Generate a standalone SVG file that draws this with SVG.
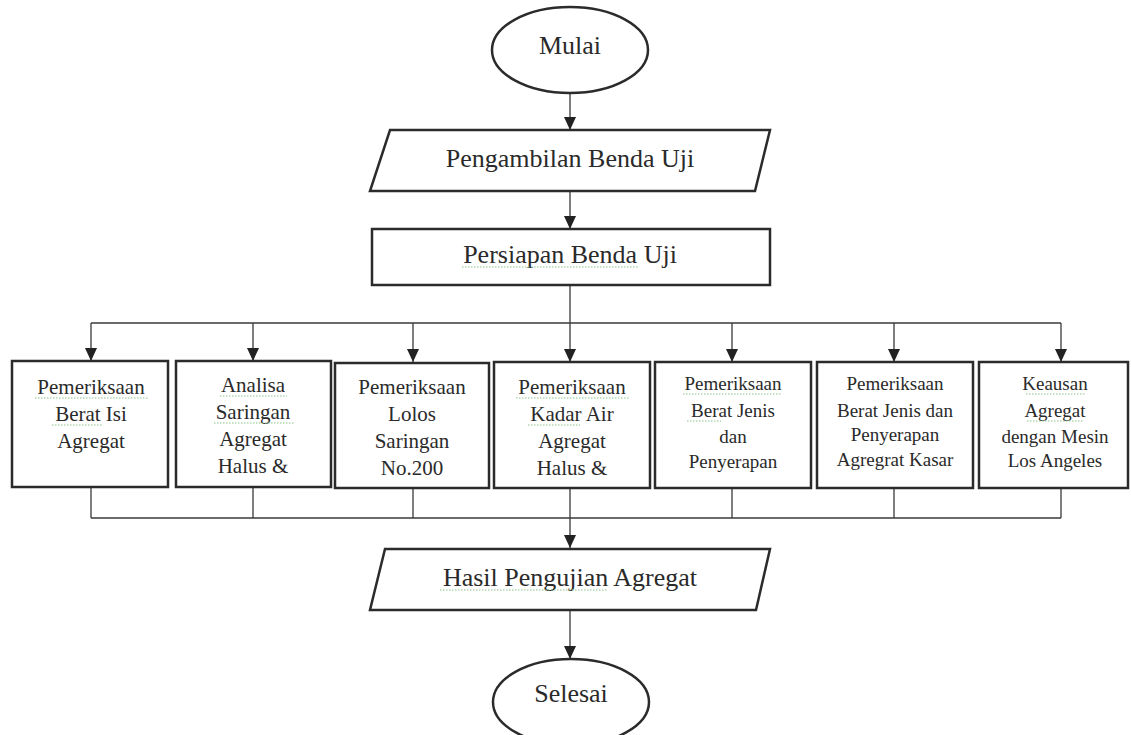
<svg xmlns="http://www.w3.org/2000/svg" width="1131" height="735" viewBox="0 0 1131 735">
<defs>
<marker id="arr" markerUnits="userSpaceOnUse" markerWidth="13" markerHeight="12" refX="13" refY="6" orient="auto" viewBox="0 0 13 12">
<path d="M0,0 L13,6 L0,12 Z" fill="#222"/>
</marker>
<style>
.shape{fill:#fff;stroke:#2b2b2b;stroke-width:2.5}
.box{fill:#fff;stroke:#2b2b2b;stroke-width:2.5}
.conn line{stroke:#3a3a3a;stroke-width:1.3;fill:none}
text{font-family:'Liberation Serif','Times New Roman','DejaVu Serif',serif;fill:#2a2a2a;text-anchor:middle}
.big{font-size:26px}
.mid{font-size:21px}
.sm{font-size:19px}
.sp{stroke:#8cc48c;stroke-width:1.2;stroke-dasharray:1.5 1.5;fill:none}
</style>
</defs>
<rect width="1131" height="735" fill="#fff"/>

<g id="connectors" class="conn">
<line x1="570" y1="93" x2="570" y2="130" marker-end="url(#arr)"/>
<line x1="570" y1="191" x2="570" y2="229" marker-end="url(#arr)"/>
<line x1="570" y1="285" x2="570" y2="323"/>
<line x1="91" y1="323" x2="1061" y2="323"/>
<line x1="91" y1="323" x2="91" y2="361" marker-end="url(#arr)"/>
<line x1="253" y1="323" x2="253" y2="361" marker-end="url(#arr)"/>
<line x1="413" y1="323" x2="413" y2="362" marker-end="url(#arr)"/>
<line x1="570" y1="323" x2="570" y2="362" marker-end="url(#arr)"/>
<line x1="732" y1="323" x2="732" y2="362" marker-end="url(#arr)"/>
<line x1="894" y1="323" x2="894" y2="362" marker-end="url(#arr)"/>
<line x1="1061" y1="323" x2="1061" y2="362" marker-end="url(#arr)"/>
<line x1="91" y1="487" x2="91" y2="518"/>
<line x1="253" y1="487" x2="253" y2="518"/>
<line x1="413" y1="488" x2="413" y2="518"/>
<line x1="570" y1="488" x2="570" y2="518"/>
<line x1="732" y1="488" x2="732" y2="518"/>
<line x1="894" y1="488" x2="894" y2="518"/>
<line x1="1061" y1="488" x2="1061" y2="518"/>
<line x1="91" y1="518" x2="1061" y2="518"/>
<line x1="570" y1="518" x2="570" y2="548" marker-end="url(#arr)"/>
<line x1="570" y1="610" x2="570" y2="659" marker-end="url(#arr)"/>
</g>

<g id="mulai">
<ellipse class="shape" cx="570" cy="50" rx="78" ry="43"/>
<text class="big" x="570" y="54" font-family="Liberation Serif, serif">Mulai</text>
</g>

<g id="pengambilan">
<polygon class="shape" points="390,130 770,130 755,191 370,191"/>
<text class="big" x="570" y="167" font-family="Liberation Serif, serif">Pengambilan Benda Uji</text>
</g>

<g id="persiapan">
<rect class="box" x="372" y="229" width="398" height="56"/>
<text class="big" x="570" y="263" font-family="Liberation Serif, serif">Persiapan Benda Uji</text>
<line class="sp" x1="462" y1="267" x2="638" y2="267"/>
</g>

<g id="box1">
<rect class="box" x="12" y="361" width="156" height="126"/>
<text class="mid" x="91" y="394">Pemeriksaan</text>
<text class="mid" x="91" y="421">Berat Isi</text>
<text class="mid" x="91" y="448">Agregat</text>
<line class="sp" x1="35" y1="398" x2="148" y2="398"/>
<line class="sp" x1="52" y1="425" x2="102" y2="425"/>
</g>

<g id="box2">
<rect class="box" x="176" y="361" width="155" height="126"/>
<text class="mid" x="253" y="392">Analisa</text>
<text class="mid" x="253" y="419">Saringan</text>
<text class="mid" x="253" y="446">Agregat</text>
<text class="mid" x="253" y="473">Halus &amp;</text>
<line class="sp" x1="220" y1="396" x2="287" y2="396"/>
<line class="sp" x1="214" y1="423" x2="295" y2="423"/>
</g>

<g id="box3">
<rect class="box" x="335" y="363" width="154" height="125"/>
<text class="mid" x="412" y="394">Pemeriksaan</text>
<text class="mid" x="412" y="421">Lolos</text>
<text class="mid" x="412" y="448">Saringan</text>
<text class="mid" x="412" y="475">No.200</text>
</g>

<g id="box4">
<rect class="box" x="494" y="362" width="156" height="126"/>
<text class="mid" x="572" y="394">Pemeriksaan</text>
<text class="mid" x="572" y="421">Kadar Air</text>
<text class="mid" x="572" y="448">Agregat</text>
<text class="mid" x="572" y="475">Halus &amp;</text>
<line class="sp" x1="516" y1="398" x2="629" y2="398"/>
<line class="sp" x1="528" y1="425" x2="580" y2="425"/>
</g>

<g id="box5">
<rect class="box" x="655" y="362" width="156" height="126"/>
<text class="sm" x="733" y="390">Pemeriksaan</text>
<text class="sm" x="733" y="417">Berat Jenis</text>
<text class="sm" x="733" y="443">dan</text>
<text class="sm" x="733" y="468">Penyerapan</text>
<line class="sp" x1="683" y1="394" x2="782" y2="394"/>
<line class="sp" x1="687" y1="421" x2="721" y2="421"/>
</g>

<g id="box6">
<rect class="box" x="817" y="362" width="156" height="126"/>
<text class="sm" x="895" y="390">Pemeriksaan</text>
<text class="sm" x="895" y="417">Berat Jenis dan</text>
<text class="sm" x="895" y="441">Penyerapan</text>
<text class="sm" x="895" y="466">Agregrat Kasar</text>
</g>

<g id="box7">
<rect class="box" x="979" y="362" width="149" height="126"/>
<text class="sm" x="1055" y="390">Keausan</text>
<text class="sm" x="1055" y="417">Agregat</text>
<text class="sm" x="1055" y="443">dengan Mesin</text>
<text class="sm" x="1055" y="467">Los Angeles</text>
<line class="sp" x1="1026" y1="394" x2="1085" y2="394"/>
<line class="sp" x1="1027" y1="421" x2="1083" y2="421"/>
</g>

<g id="hasil">
<polygon class="shape" points="385,549 770,549 756,610 370,610"/>
<text class="big" x="570" y="586">Hasil Pengujian Agregat</text>
<line class="sp" x1="440" y1="590" x2="608" y2="590"/>
</g>

<g id="selesai">
<ellipse class="shape" cx="571" cy="702" rx="78" ry="43"/>
<text class="big" x="571" y="702">Selesai</text>
</g>
</svg>
